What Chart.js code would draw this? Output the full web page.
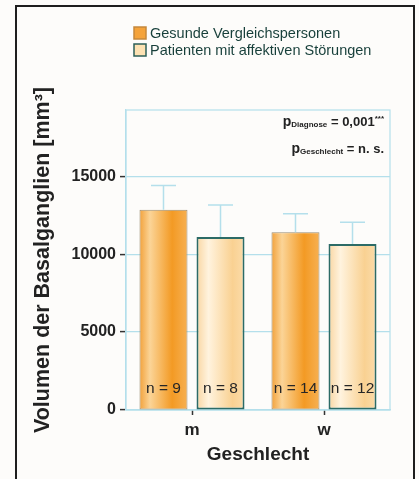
<!DOCTYPE html>
<html>
<head>
<meta charset="utf-8">
<script src="https://cdn.jsdelivr.net/npm/chart.js@4.4.1/dist/chart.umd.min.js"></script>
<style>
  html, body { margin: 0; padding: 0; background: #fff; }
  canvas { display: block; }
</style>
</head>
<body>
<canvas id="basalChart" width="419" height="479"></canvas>
<script>
// Werte
const categories = ['m', 'w'];
const seriesLabels = ['Gesunde Vergleichspersonen', 'Patienten mit affektiven Störungen'];
const healthyMeans = [12850, 11400];
const patientMeans = [11100, 10650];
const healthyErr = [1550, 1200];
const patientErr = [2050, 1400];
const healthyN = [9, 14];
const patientN = [8, 12];
const yTicks = [0, 5000, 10000, 15000];
const yMax = 19250;

const FONT = '"Liberation Sans", Arial, Helvetica, sans-serif';
const GRID = '#b4dfeb';

const gradientStops = [
    [[0, '#f2a13a'], [0.22, '#fbd497'], [0.68, '#f39a24'], [1, '#f7b052']],
    [[0, '#f9d6a2'], [0.25, '#fff3de'], [0.75, '#f9d192'], [1, '#fbdcaa']],
];
const errors = [healthyErr, patientErr];
const counts = [healthyN, patientN];

const decoPlugin = {
    id: 'deco',
    beforeDraw(chart) {
        const ctx = chart.ctx;
        ctx.save();
        ctx.fillStyle = '#fdfcfa';
        ctx.fillRect(0, 0, chart.width, chart.height);
        ctx.strokeStyle = '#1e1e1e';
        ctx.lineWidth = 2;
        ctx.strokeRect(16, 6, 398, 490);

        // Legende
        const boxes = [
            { fill: '#f5a33a', stroke: '#c5883c' },
            { fill: '#fde2b3', stroke: '#2c5f58' },
        ];
        ctx.font = '14.5px ' + FONT;
        ctx.textBaseline = 'middle';
        seriesLabels.forEach(function (label, i) {
            const y = 33 + i * 17;
            ctx.fillStyle = boxes[i].fill;
            ctx.fillRect(134, y - 6, 12, 12);
            ctx.strokeStyle = boxes[i].stroke;
            ctx.lineWidth = 1.5;
            ctx.strokeRect(134, y - 6, 12, 12);
            ctx.fillStyle = '#173f3a';
            ctx.fillText(label, 150, y + 1);
        });
        ctx.restore();
    },
    beforeDatasetsDraw(chart) {
        const ctx = chart.ctx;
        const area = chart.chartArea;
        ctx.save();
        ctx.strokeStyle = GRID;
        ctx.lineWidth = 1.2;
        ctx.strokeRect(area.left, area.top, area.right - area.left, area.bottom - area.top);
        ctx.restore();

        chart.data.datasets.forEach(function (ds, di) {
            chart.getDatasetMeta(di).data.forEach(function (bar) {
                const left = bar.x - bar.width / 2;
                const g = ctx.createLinearGradient(left, 0, left + bar.width, 0);
                gradientStops[di].forEach(function (s) { g.addColorStop(s[0], s[1]); });
                bar.options = Object.assign({}, bar.options, { backgroundColor: g });
            });
        });
    },
    afterDatasetsDraw(chart) {
        const ctx = chart.ctx;
        const y = chart.scales.y;
        ctx.save();
        chart.data.datasets.forEach(function (ds, di) {
            chart.getDatasetMeta(di).data.forEach(function (bar, i) {
                const top = y.getPixelForValue(ds.data[i]);
                const end = y.getPixelForValue(ds.data[i] + errors[di][i]);
                ctx.strokeStyle = GRID;
                ctx.lineWidth = 1.5;
                ctx.beginPath();
                ctx.moveTo(bar.x, top);
                ctx.lineTo(bar.x, end);
                ctx.moveTo(bar.x - 12.5, end);
                ctx.lineTo(bar.x + 12.5, end);
                ctx.stroke();

                ctx.fillStyle = '#262626';
                ctx.font = '15.5px ' + FONT;
                ctx.textAlign = 'center';
                ctx.textBaseline = 'alphabetic';
                ctx.fillText('n = ' + counts[di][i], bar.x, y.getPixelForValue(0) - 17);
            });
        });

        // p-Werte
        const lines = [
            { base: 126, parts: [['p', 14, 0], ['Diagnose', 8, 1], [' = 0,001', 13, 0], ['***', 8, -5]] },
            { base: 153, parts: [['p', 14, 0], ['Geschlecht', 8, 1], [' = n. s.', 13, 0]] },
        ];
        ctx.textAlign = 'left';
        ctx.fillStyle = '#222';
        lines.forEach(function (line) {
            let total = 0;
            line.parts.forEach(function (p) {
                ctx.font = 'bold ' + p[1] + 'px ' + FONT;
                total += ctx.measureText(p[0]).width;
            });
            let x = 384 - total;
            line.parts.forEach(function (p) {
                ctx.font = 'bold ' + p[1] + 'px ' + FONT;
                ctx.fillText(p[0], x, line.base + p[2]);
                x += ctx.measureText(p[0]).width;
            });
        });
        ctx.restore();
    },
};

new Chart(document.getElementById('basalChart'), {
    type: 'bar',
    data: {
        labels: categories,
        datasets: [{
            label: seriesLabels[0],
            data: healthyMeans,
            backgroundColor: '#f5a33a',
            borderColor: '#9b8c72',
            borderWidth: 1,
            borderSkipped: false,
        }, {
            label: seriesLabels[1],
            data: patientMeans,
            backgroundColor: '#fde2b3',
            borderColor: '#2c6b66',
            borderWidth: 2,
            borderSkipped: false,
        }],
    },
    options: {
        responsive: false,
        animation: false,
        devicePixelRatio: 1,
        categoryPercentage: 0.864,
        barPercentage: 0.842,
        layout: { padding: { top: 110, right: 29, bottom: 0, left: 0 } },
        plugins: {
            legend: { display: false },
            tooltip: { enabled: false },
        },
        scales: {
            x: {
                grid: { drawOnChartArea: false, offset: false, tickLength: 5, tickColor: '#333', tickWidth: 1.5 },
                border: { color: GRID, width: 1.2 },
                ticks: { color: '#222', padding: 5, font: { family: FONT, size: 17, weight: 'bold' } },
                title: {
                    display: true,
                    text: 'Geschlecht',
                    color: '#222',
                    font: { family: FONT, size: 19, weight: 'bold' },
                    padding: { top: 0, bottom: 13 },
                },
                afterFit: function (scale) { scale.height = 69; },
            },
            y: {
                min: 0,
                max: yMax,
                afterBuildTicks: function (scale) {
                    scale.ticks = yTicks.map(function (v) { return { value: v }; });
                },
                grid: { color: GRID, lineWidth: 1.2, tickLength: 6, tickColor: '#333', tickWidth: 1.5 },
                border: { color: GRID, width: 1.2 },
                ticks: {
                    color: '#222',
                    padding: 4,
                    font: { family: FONT, size: 16, weight: 'bold' },
                    callback: function (v) { return String(v); },
                },
                title: {
                    display: true,
                    text: 'Volumen der Basalganglien [mm³]',
                    color: '#222',
                    font: { family: FONT, size: 21.5, weight: 'bold' },
                    padding: { top: 30, bottom: 0 },
                },
                afterFit: function (scale) { scale.width = 126; },
            },
        },
    },
    plugins: [decoPlugin],
});
</script>
</body>
</html>
